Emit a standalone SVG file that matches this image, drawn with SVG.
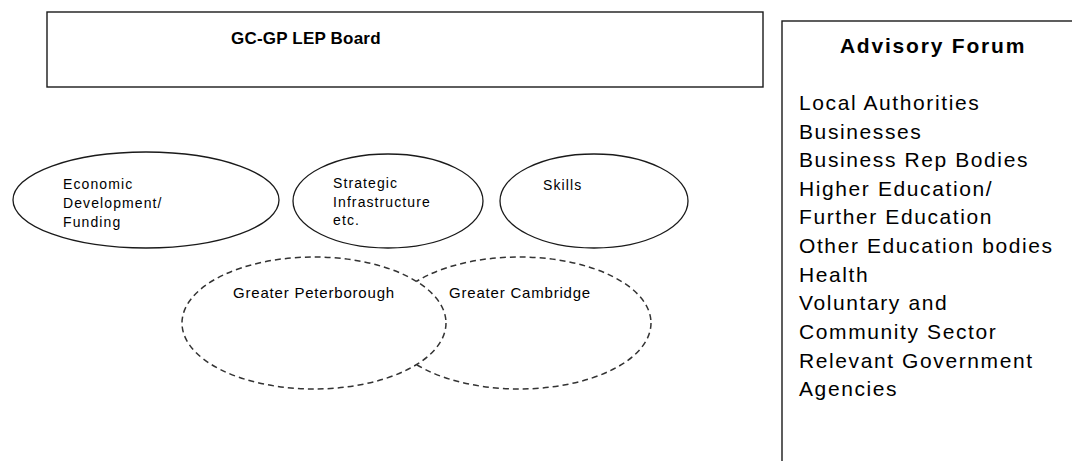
<svg xmlns="http://www.w3.org/2000/svg" width="1072" height="461" viewBox="0 0 1072 461">
  <style>
    .box { fill: #ffffff; stroke: #1a1a1a; stroke-width: 1.4; }
    .oval { fill: #ffffff; stroke: #1a1a1a; stroke-width: 1.3; }
    .dash { fill: #ffffff; stroke: #333333; stroke-width: 1.5; stroke-dasharray: 6 4; }
    .title { font-family: "Liberation Sans", Arial, sans-serif; font-weight: bold; fill: #000; }
    .small { font-family: "Liberation Sans", Arial, sans-serif; font-size: 14px; letter-spacing: 1.1px; fill: #000; }
    .mid { font-family: "Liberation Sans", Arial, sans-serif; font-size: 15px; letter-spacing: 0.8px; fill: #000; }
    .list { font-family: "Liberation Sans", Arial, sans-serif; font-size: 21px; letter-spacing: 1.6px; fill: #000; }
  </style>
  <rect width="1072" height="461" fill="#ffffff"/>

  <!-- board -->
  <g id="board">
    <rect class="box" x="47" y="12" width="716" height="75"/>
    <text class="title" x="231" y="44" font-size="17" letter-spacing="0.2">GC-GP LEP Board</text>
  </g>

  <!-- advisory forum panel, running off the right and bottom edges -->
  <g id="advisory-forum">
    <rect class="box" x="782" y="21" width="320" height="460"/>
    <text class="title" x="933" y="53" font-size="21" letter-spacing="1.8" text-anchor="middle">Advisory Forum</text>
    <text class="list" x="799" y="110">Local Authorities</text>
    <text class="list" x="799" y="139">Businesses</text>
    <text class="list" x="799" y="167">Business Rep Bodies</text>
    <text class="list" x="799" y="196">Higher Education/</text>
    <text class="list" x="799" y="224">Further Education</text>
    <text class="list" x="799" y="253">Other Education bodies</text>
    <text class="list" x="799" y="282">Health</text>
    <text class="list" x="799" y="310">Voluntary and</text>
    <text class="list" x="799" y="339">Community Sector</text>
    <text class="list" x="799" y="368">Relevant Government</text>
    <text class="list" x="799" y="396">Agencies</text>
  </g>

  <!-- theme groups -->
  <g id="economic-development">
    <ellipse class="oval" cx="146" cy="200" rx="133" ry="48"/>
    <text class="small" x="63" y="189">Economic</text>
    <text class="small" x="63" y="208">Development/</text>
    <text class="small" x="63" y="227">Funding</text>
  </g>
  <g id="strategic-infrastructure">
    <ellipse class="oval" cx="388" cy="201" rx="95" ry="47"/>
    <text class="small" x="333" y="188">Strategic</text>
    <text class="small" x="333" y="207">Infrastructure</text>
    <text class="small" x="333" y="225">etc.</text>
  </g>
  <g id="skills">
    <ellipse class="oval" cx="594" cy="201" rx="94" ry="47"/>
    <text class="small" x="543" y="190">Skills</text>
  </g>

  <!-- geographic areas: Peterborough drawn over Cambridge -->
  <g id="greater-cambridge">
    <ellipse class="dash" cx="519" cy="323" rx="132" ry="66"/>
    <text class="mid" x="449" y="298">Greater Cambridge</text>
  </g>
  <g id="greater-peterborough">
    <ellipse class="dash" cx="314" cy="323" rx="132" ry="66"/>
    <text class="mid" x="233" y="298">Greater Peterborough</text>
  </g>

  <g id="connectors"/>
</svg>
